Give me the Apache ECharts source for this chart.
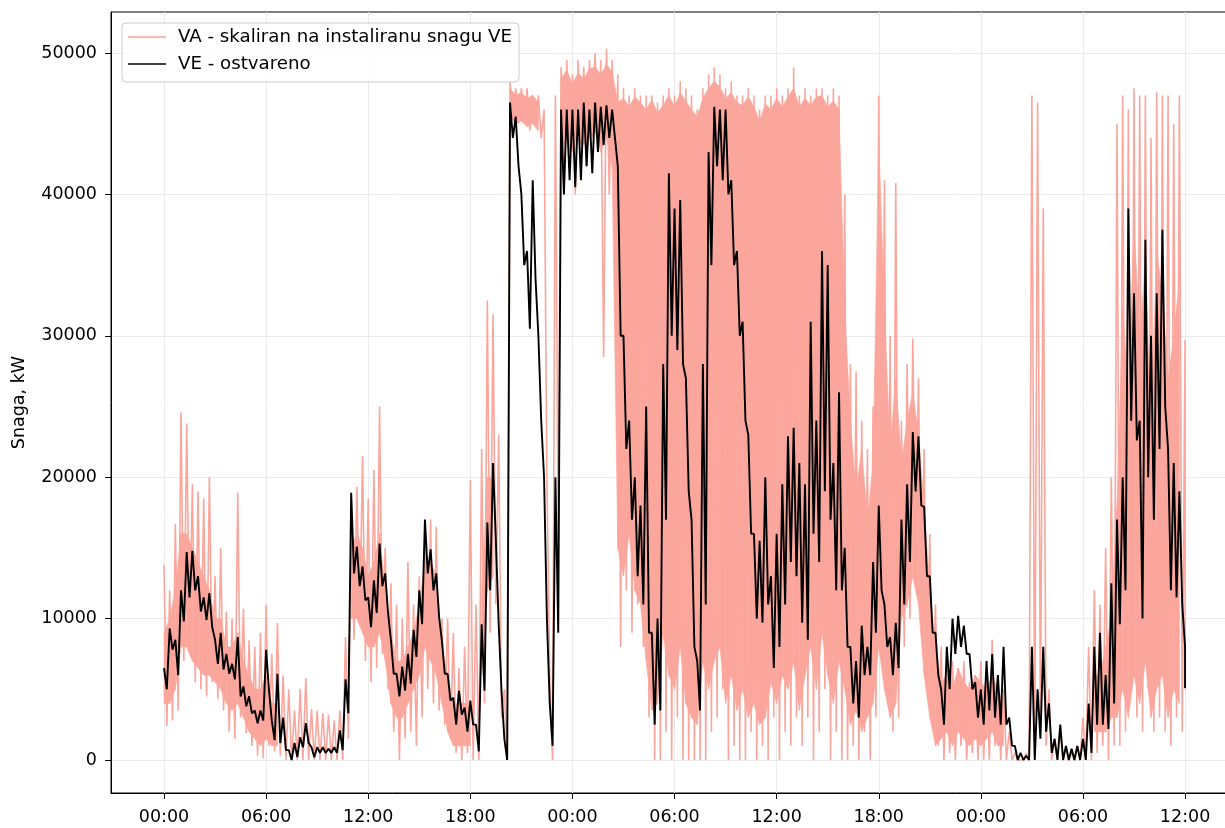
<!DOCTYPE html>
<html><head><meta charset="utf-8">
<script src="https://cdn.jsdelivr.net/npm/echarts@6/dist/echarts.min.js"></script>
<style>html,body{margin:0;padding:0;overflow:hidden;background:#fff}#c{width:1250px;height:828px}</style>
</head><body><div id="c"></div>
<script>
const seriesNames = ['VA - skaliran na instaliranu snagu VE', 'VE - ostvareno'];
const xTickHours = [0, 6, 12, 18, 24, 30, 36, 42, 48, 54, 60];
const xTickLabels = ['00:00','06:00','12:00','18:00','00:00','06:00','12:00','18:00','00:00','06:00','12:00'];
const yTicks = [0, 10000, 20000, 30000, 40000, 50000];
const binHours = 1 / 3; // each entry below = one 20-minute bin

// VA (pink) per-bin maximum and minimum, kW
const vaHi = [
13800,12000,16700,24600,23800,19500,19000,18500,20000,13000,15000,10500,
10000,18900,10700,8500,8000,9000,11000,7500,9700,6000,5000,3500,
5000,5800,3600,3500,3300,3200,2800,3500,8700,16500,19300,21500,
18500,20500,25000,15000,12500,11000,10000,14000,11000,13000,16500,17000,
16500,10000,10000,9000,6500,8000,19800,11000,22000,32500,31500,23000,
5000,48000,47500,47500,47500,47000,47000,46000,6000,47000,49000,49500,
48500,49500,49000,49500,50000,49500,50300,49500,48500,47500,47000,47500,
47000,47000,47000,46500,47000,47500,47000,48000,47500,47000,46000,47500,
48500,49000,48500,47500,48000,47000,47000,47500,47000,46000,47000,47000,
47500,47000,47500,49000,47000,47500,47000,47500,47500,47000,47500,47000,
40000,28000,27500,24000,22000,25000,47000,41000,30000,40800,24000,28000,
29800,27000,22000,16000,11000,8000,6500,7000,6500,7000,5500,6000,
7000,6000,8500,6000,5000,2000,500,0,500,47000,46500,39000,
5000,1500,2000,1000,500,1000,3000,8000,12000,11000,15000,20000,
45000,47000,46000,47500,47000,47000,44000,47200,47000,47000,45000,47000,
29700];
const vaLo = [
2400,2800,3500,7000,8000,5500,5000,4500,5500,4300,3500,2000,
1500,3000,1900,1000,300,100,1000,600,300,0,0,0,
0,0,0,0,0,0,0,0,1500,8500,9500,7000,
5500,6500,7500,5000,2000,0,1500,2000,1000,3000,5000,4000,
3500,2500,1500,500,0,500,0,0,4000,9000,11000,3000,
0,45500,45000,45000,44500,45000,44000,20000,0,15000,40000,43000,
40000,43500,42000,44000,43000,28500,40000,38000,8000,12000,9000,11000,
8000,3000,0,0,2000,0,3000,0,0,0,0,0,
2000,3000,5000,0,1000,0,0,2000,0,1000,0,3000,
0,2000,1000,3000,1000,3000,0,2000,5000,0,2000,0,
0,1000,0,2000,0,3000,10000,5000,2000,3000,8000,10000,
13000,10000,5000,3000,1000,0,500,0,1000,0,500,0,
0,0,1000,0,0,0,0,0,0,0,2000,1000,
0,0,0,0,0,0,0,0,500,1000,0,1000,
1000,2000,5000,3000,2000,5000,2000,3000,2000,1000,3000,2000,
5000];
// VA: extent of the visually solid (densely overplotted) part of each bin, kW; null = no solid part
const vaCoreHi = [
9000,10000,12000,16000,16000,15000,14000,13000,12000,10000,10000,8000,
8000,9000,7000,6000,5000,5000,6000,4000,4000,null,null,null,
null,null,null,null,null,null,null,null,null,15000,16000,15000,
13000,14000,16000,12000,9000,7000,7000,8000,9000,11000,14000,14000,
13000,8000,6000,4000,4000,4000,4000,null,12000,20000,20000,null,
null,47500,47000,47200,46800,47000,46500,null,null,null,48200,48800,
47800,48600,48200,48900,49000,48500,49200,48700,46500,46800,46200,46900,
46500,46000,46700,45800,46300,47000,46200,47200,46600,46000,45500,46800,
47500,48000,47600,46800,47200,46500,46300,46900,46200,45200,46400,46000,
46800,46200,46900,47500,46200,46800,46300,46900,47000,46200,46600,46000,
32000,24000,19000,22000,17000,21000,44000,32000,22000,27000,21000,24000,
26000,23000,18000,12000,8000,5500,6000,5000,6500,5500,5000,6000,
5500,5000,6000,5000,4000,null,null,null,null,null,null,null,
null,null,null,null,null,null,null,null,6000,6000,8000,10000,
18000,32000,26000,38000,30000,35000,24000,36000,33000,27000,30000,34000,
null];
const vaCoreLo = [
4000,4000,5000,8000,8000,7000,6500,6000,6000,5500,5000,4000,
3500,4000,3000,2000,1500,1000,1500,1000,1000,null,null,null,
null,null,null,null,null,null,null,null,null,10000,10000,9000,
8000,8000,9000,7000,4000,3000,3000,4000,5000,6000,8000,7000,
6000,4000,2000,1000,1000,1000,1000,null,6000,12000,13000,null,
null,45500,45000,45200,44800,45000,44500,null,null,null,43000,44000,
43000,44500,43500,44000,44500,43000,44000,42000,15000,13000,16000,12000,
11000,7000,3500,4000,9000,6000,5000,8000,4000,3000,2500,7000,
5000,7000,8000,4000,6000,3500,5000,3000,4000,2500,3000,5500,
4000,6000,5000,7000,3500,6000,8000,5000,9000,6000,4000,7000,
5000,2500,3500,2000,3000,4000,8000,5000,3000,4000,10000,11000,
13000,11000,6000,3000,1000,1500,2000,1000,2000,1500,1000,1500,
1000,1500,2000,1000,1000,null,null,null,null,null,null,null,
null,null,null,null,null,null,null,null,2000,2000,2000,3000,
3000,5000,3000,6000,4000,7000,3000,5000,6000,3000,5000,4000,
null];

// VE (black) per-bin maximum and minimum, kW
const veHi = [
6500,9300,8500,12000,14700,14800,13000,11500,11800,8500,9000,7500,
6800,8700,5200,4500,3500,3500,7800,2800,6100,3000,700,1200,
1600,2600,900,900,900,800,900,2100,5700,18900,15100,13700,
11500,12700,15300,13200,8500,6100,6600,7500,9200,12000,17000,14900,
13200,8400,6100,4400,4900,3700,4200,2500,9600,16800,21000,9600,
1500,46500,45500,40000,36000,41000,30000,20000,4000,20000,46000,46000,
46000,46000,46500,46000,46500,46200,46300,46000,42000,30000,24000,20000,
18000,25000,9000,10000,28000,41500,39000,39600,27000,17000,7000,28000,
43000,46200,46000,46000,41000,36000,31000,23000,16000,15500,20000,13000,
16000,19500,22900,23500,21000,19500,31000,24000,36000,35000,21000,26000,
15000,8000,7000,9500,8000,14000,18000,11000,8700,9700,17000,19500,
23200,22900,17900,13000,9000,5000,8000,10000,10200,9500,7500,5500,
5000,7000,7500,6000,8000,3000,1000,500,300,8000,5000,8000,
4000,1500,2500,1000,800,1000,1500,4000,8000,9000,6000,12500,
17000,20000,39000,33000,24000,36800,30000,33000,37500,22000,21000,19000,
8000];
const veLo = [
5000,7800,6000,9800,11500,12000,10500,9900,9400,6800,6400,6100,
5700,4500,3800,3300,2600,2800,5000,1400,1200,700,0,200,
900,1200,200,500,500,500,500,700,3300,13200,12300,11300,
9400,10400,12300,10400,6100,4500,4900,5400,7300,9600,13200,12000,
10100,6100,4200,2500,3200,2000,2500,600,4900,12000,15600,4900,
0,44000,42000,35000,30500,34000,24000,10000,1000,9000,40000,41000,
40500,41000,42000,41500,43000,43500,44000,44000,30000,22000,17000,13000,
11000,9000,2500,3500,17000,30000,29000,28000,19000,8000,3500,11000,
35000,42000,41000,40000,35000,30000,24000,16000,10000,9700,11000,6500,
8000,11000,14000,13000,9700,8500,16000,14000,19000,17000,12000,12000,
8000,4000,3000,6000,6000,9000,12000,8000,6000,6500,11000,14000,
19000,18000,13000,9000,6000,2500,5000,7500,8000,7500,5000,3000,
2500,3500,3000,2500,2500,1000,0,0,0,0,1500,2000,
500,0,0,0,0,0,0,500,2500,2500,2200,4000,
9600,12000,24000,22600,10000,20000,17000,22000,25000,12000,11500,11000,
5100];

function envelope(hi, lo) {
  const out = [];
  const last = (hi.length - 1) * binHours;
  for (let i = 0; i < hi.length; i++) {
    const t = i * binHours;
    out.push([t, hi[i]]);
    out.push([Math.min(t + binHours / 2, last), lo[i]]);
  }
  return out;
}
// one quadrilateral per pair of neighbouring bins that both have a solid part
const coreItems = [];
for (let i = 0; i + 1 < vaCoreHi.length; i++) {
  if (vaCoreHi[i] == null || vaCoreHi[i + 1] == null) continue;
  coreItems.push([i * binHours, vaCoreLo[i], vaCoreHi[i], (i + 1) * binHours, vaCoreLo[i + 1], vaCoreHi[i + 1]]);
}

const FONT = 'DejaVu Sans';
const FS = 17.5;
const PINK = '#FBA69C';
const lineIcon = 'path://M0,0 L38,0 L38,1.3 L0,1.3 Z';
const chart = echarts.init(document.getElementById('c'), null, {renderer: 'canvas'});
chart.setOption({
  animation: false,
  backgroundColor: '#fff',
  grid: {left: 111, right: 12, top: 12, bottom: 35, show: true, borderColor: '#000', borderWidth: 1, backgroundColor: 'transparent'},
  legend: {
    orient: 'vertical', left: 122, top: 23,
    padding: [4, 7, 8, 6], itemGap: 7, itemWidth: 38, itemHeight: 14,
    backgroundColor: 'rgba(255,255,255,0.8)', borderColor: '#cccccc', borderWidth: 1, borderRadius: 4,
    textStyle: {fontFamily: FONT, fontSize: 18.2, color: '#000', lineHeight: 20, padding: [0, 0, 0, 7]},
    data: [
      {name: seriesNames[0], icon: lineIcon, itemStyle: {color: PINK}},
      {name: seriesNames[1], icon: lineIcon, itemStyle: {color: '#000'}}
    ]
  },
  xAxis: {
    type: 'value', min: -3.114, max: 63.11,
    axisLine: {show: true, onZero: false, lineStyle: {color: '#000', width: 1}},
    axisTick: {show: true, inside: false, length: 6, lineStyle: {color: '#000'}, customValues: xTickHours},
    axisLabel: {customValues: xTickHours, margin: 15, fontFamily: FONT, fontSize: FS, color: '#000',
      formatter: v => xTickLabels[xTickHours.indexOf(Math.round(v))]},
    splitLine: {show: true, lineStyle: {color: '#ebebeb', width: 1}}
  },
  yAxis: {
    type: 'value', min: -2334, max: 52900,
    name: 'Snaga, kW', nameLocation: 'middle', nameGap: 83,
    nameTextStyle: {fontFamily: FONT, fontSize: FS, color: '#000'},
    axisLine: {show: true, onZero: false, lineStyle: {color: '#000', width: 1}},
    axisTick: {show: true, inside: false, length: 6, lineStyle: {color: '#000'}, customValues: yTicks},
    axisLabel: {customValues: yTicks, margin: 14, fontFamily: FONT, fontSize: FS, color: '#000', formatter: v => String(v)},
    splitLine: {show: true, lineStyle: {color: '#ebebeb', width: 1}}
  },
  series: [
    {type: 'custom', z: 1, silent: true, data: coreItems,
     encode: {x: [0, 3], y: [1, 2, 4, 5]},
     renderItem: (params, api) => {
       const p1 = api.coord([api.value(0), api.value(1)]);
       const p2 = api.coord([api.value(0), api.value(2)]);
       const p3 = api.coord([api.value(3), api.value(5)]);
       const p4 = api.coord([api.value(3), api.value(4)]);
       return {type: 'polygon', shape: {points: [p1, p2, p3, p4]}, style: {fill: PINK, stroke: PINK, lineWidth: 0.6}};
     }},
    {name: seriesNames[0], type: 'line', data: envelope(vaHi, vaLo), showSymbol: false, symbol: 'none',
     lineStyle: {color: PINK, width: 1.6}, itemStyle: {color: PINK}, z: 2, silent: true},
    {name: seriesNames[1], type: 'line', data: envelope(veHi, veLo), showSymbol: false, symbol: 'none',
     lineStyle: {color: '#000', width: 1.9}, itemStyle: {color: '#000'}, z: 3, silent: true}
  ]
});
</script></body></html>
